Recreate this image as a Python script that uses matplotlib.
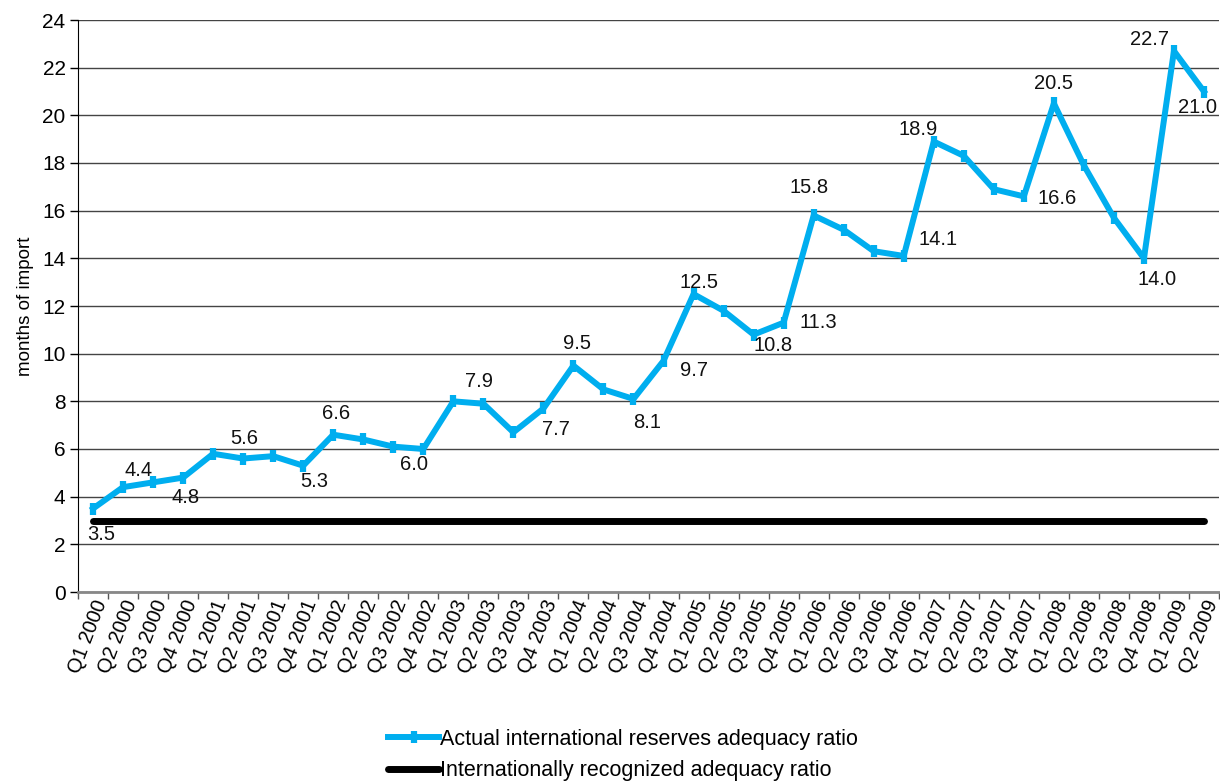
import matplotlib
matplotlib.use("Agg")
import matplotlib.pyplot as plt
import numpy as np

plt.rcParams['font.family'] = ['Liberation Sans', 'DejaVu Sans']

quarters = [f"Q{q} {y}" for y in range(2000, 2010) for q in range(1, 5)][:38]
actual = [3.5, 4.4, 4.6, 4.8, 5.8, 5.6, 5.7, 5.3,
          6.6, 6.4, 6.1, 6.0, 8.0, 7.9, 6.7, 7.7,
          9.5, 8.5, 8.1, 9.7, 12.5, 11.8, 10.8, 11.3,
          15.8, 15.2, 14.3, 14.1, 18.9, 18.3, 16.9, 16.6,
          20.5, 17.9, 15.7, 14.0, 22.7, 21.0]
recognized = [3.0] * 38
yticks = list(range(0, 25, 2))

# labelled point index -> label offset (pixels, right / up)
label_offsets = {0: (8, -26), 1: (16, 17), 3: (2, -20), 5: (1, 20),
                 7: (11, -16), 8: (3, 21), 11: (-9, -16), 13: (-4, 22),
                 15: (13, -21), 16: (4, 22), 18: (14, -24), 19: (30, -10),
                 20: (5, 12), 22: (19, -11), 23: (35, 0), 24: (-5, 28),
                 27: (34, 16), 28: (-16, 12), 31: (33, -2), 32: (0, 20),
                 35: (13, -21), 36: (-24, 11), 37: (-6, -16)}

fig = plt.figure(figsize=(12.2, 7.81), dpi=100)
ax = fig.add_axes([78/1220, 1-592/781, 1141/1220, 572/781])

x = np.arange(len(quarters))
blue = '#00AEEF'
ax.plot(x, actual, color=blue, lw=4.3, marker='|', ms=9, mew=4.5,
        label='Actual international reserves adequacy ratio', zorder=3,
        solid_joinstyle='round')
ax.plot(x, recognized, color='black', lw=5, solid_capstyle='round',
        label='Internationally recognized adequacy ratio', zorder=2)

px2pt = 0.72
for i, (dx, dy) in label_offsets.items():
    ax.annotate(f"{actual[i]:.1f}", (x[i], actual[i]),
                xytext=(dx * px2pt, dy * px2pt),
                textcoords='offset points', ha='center', va='center',
                fontsize=14.5, color='#111111', zorder=4)

ax.set_xlim(-0.5, len(quarters) - 0.5)
ax.set_ylim(0, 24)
ax.set_yticks(yticks)
ax.set_yticklabels([str(v) for v in yticks], fontsize=15)
ax.yaxis.grid(True, color='#444444', lw=1)
ax.set_axisbelow(True)

ax.set_xticks(x)
ax.set_xticklabels(quarters, rotation=69, ha='right', rotation_mode='anchor',
                   fontsize=14.5)
ax.tick_params(axis='x', length=0, pad=4)
ax.set_xticks(np.arange(-0.5, len(quarters), 1.0), minor=True)
ax.tick_params(axis='x', which='minor', length=5, color='#555555', width=1)
ax.tick_params(axis='y', length=6, width=1, color='black', direction='out', pad=3)

for s in ['top', 'right']:
    ax.spines[s].set_visible(False)
ax.spines['left'].set_color('black')
ax.spines['bottom'].set_color('#888888')
ax.spines['bottom'].set_linewidth(2)

ax.set_ylabel('months of import', fontsize=13.5, labelpad=6)

fig.legend(loc='center', bbox_to_anchor=(623/1220, 1 - 755/781), frameon=False,
           fontsize=15.5, handlelength=2.4, handletextpad=0.05, labelspacing=0.5)

fig.savefig('out.png', dpi=100)
